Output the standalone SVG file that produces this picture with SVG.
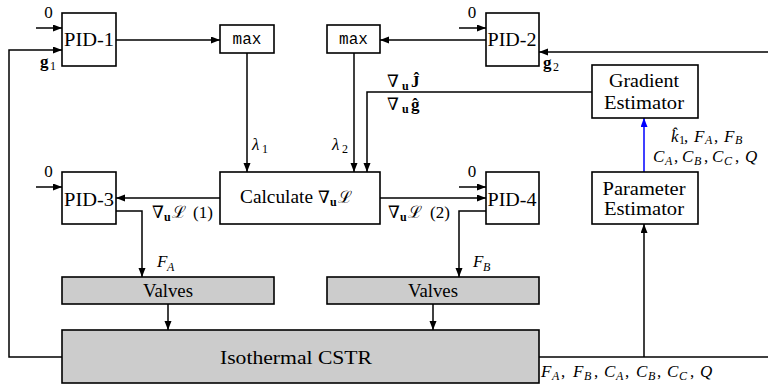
<svg xmlns="http://www.w3.org/2000/svg" width="768" height="387" viewBox="0 0 768 387">
<style>
.box{fill:#fff;stroke:#000;stroke-width:1.6}
.gray{fill:#cccccc;stroke:#000;stroke-width:1.6}
.ln{fill:none;stroke:#000;stroke-width:1.5}
.blue{fill:none;stroke:#0000ff;stroke-width:1.5}
text{fill:#000}
.t{font-size:18px}
.m{font-size:17px;font-style:italic}
.n{font-size:17px}
.s{font-size:12px}
.b{font-weight:bold;font-style:normal}
.r{font-style:normal}
.tt{font-size:16px}
</style>
<defs>
<marker id="ar" markerUnits="userSpaceOnUse" markerWidth="10" markerHeight="8" refX="9" refY="3.5" orient="auto"><path d="M0,0 L9,3.5 L0,7 z" fill="#000"/></marker>
<marker id="arb" markerUnits="userSpaceOnUse" markerWidth="10" markerHeight="8" refX="9" refY="3.5" orient="auto"><path d="M0,0 L9,3.5 L0,7 z" fill="#0000ff"/></marker>
</defs>

<g id="connectors">
<path class="ln" d="M36,28 H62" marker-end="url(#ar)"/>
<path class="ln" d="M62,357 H9 V50 H62" marker-end="url(#ar)"/>
<path class="ln" d="M116,40 H220" marker-end="url(#ar)"/>
<path class="ln" d="M247,53 V172" marker-end="url(#ar)"/>
<path class="ln" d="M486,40 H380" marker-end="url(#ar)"/>
<path class="ln" d="M459,28 H486" marker-end="url(#ar)"/>
<path class="ln" d="M768,52 H539" marker-end="url(#ar)"/>
<path class="ln" d="M354,53 V172" marker-end="url(#ar)"/>
<path class="ln" d="M592,92 H367 V172" marker-end="url(#ar)"/>
<path class="ln" d="M220,198 H116" marker-end="url(#ar)"/>
<path class="ln" d="M36,187 H62" marker-end="url(#ar)"/>
<path class="ln" d="M380,198 H486" marker-end="url(#ar)"/>
<path class="ln" d="M459,187 H486" marker-end="url(#ar)"/>
<path class="ln" d="M116,211 H142 V277" marker-end="url(#ar)"/>
<path class="ln" d="M486,211 H459 V277" marker-end="url(#ar)"/>
<path class="ln" d="M168,304 V330" marker-end="url(#ar)"/>
<path class="ln" d="M433,304 V330" marker-end="url(#ar)"/>
<path class="ln" d="M539,357 H768"/>
<path class="ln" d="M644,357 V224" marker-end="url(#ar)"/>
<path class="blue" d="M644,172 V118" marker-end="url(#arb)"/>
</g>

<g font-family="'Liberation Serif', 'DejaVu Serif', 'Noto Serif', 'Times New Roman', serif">
<g id="pid1">
<rect class="box" x="62" y="13" width="54" height="53"/>
<text class="t" x="89" y="46" text-anchor="middle" textLength="50" lengthAdjust="spacingAndGlyphs">PID-1</text>
</g>
<g id="pid2">
<rect class="box" x="486" y="13" width="53" height="53"/>
<text class="t" x="512" y="46" text-anchor="middle" textLength="49" lengthAdjust="spacingAndGlyphs">PID-2</text>
</g>
<g id="pid3">
<rect class="box" x="62" y="172" width="54" height="52"/>
<text class="t" x="89" y="206" text-anchor="middle" textLength="50" lengthAdjust="spacingAndGlyphs">PID-3</text>
</g>
<g id="pid4">
<rect class="box" x="486" y="172" width="53" height="52"/>
<text class="t" x="512" y="206" text-anchor="middle" textLength="49" lengthAdjust="spacingAndGlyphs">PID-4</text>
</g>
<g id="max1">
<rect class="box" x="220" y="25" width="54" height="28"/>
<text class="tt" font-family="'Liberation Mono', 'DejaVu Sans Mono', monospace" x="247" y="44" text-anchor="middle">max</text>
</g>
<g id="max2">
<rect class="box" x="327" y="25" width="53" height="28"/>
<text class="tt" font-family="'Liberation Mono', 'DejaVu Sans Mono', monospace" x="353.5" y="44" text-anchor="middle">max</text>
</g>
<g id="gradient-estimator">
<rect class="box" x="592" y="65" width="106" height="53"/>
<text class="t" x="644" y="87" text-anchor="middle" textLength="70" lengthAdjust="spacingAndGlyphs">Gradient</text>
<text class="t" x="644" y="109" text-anchor="middle" textLength="80" lengthAdjust="spacingAndGlyphs">Estimator</text>
</g>
<g id="parameter-estimator">
<rect class="box" x="592" y="172" width="106" height="52"/>
<text class="t" x="644" y="195" text-anchor="middle" textLength="83" lengthAdjust="spacingAndGlyphs">Parameter</text>
<text class="t" x="644" y="215" text-anchor="middle" textLength="80" lengthAdjust="spacingAndGlyphs">Estimator</text>
</g>
<g id="calculate">
<rect class="box" x="220" y="172" width="160" height="52"/>
<text class="t" y="203"><tspan x="240" textLength="73" lengthAdjust="spacingAndGlyphs">Calculate</tspan><tspan x="318" class="n">∇</tspan><tspan x="330" dy="3" class="s b">u</tspan><tspan x="338" dy="-3" class="m">ℒ</tspan></text>
</g>
<g id="valves1">
<rect class="gray" x="62" y="277" width="212" height="27"/>
<text class="t" x="168" y="297" text-anchor="middle" textLength="50" lengthAdjust="spacingAndGlyphs">Valves</text>
</g>
<g id="valves2">
<rect class="gray" x="327" y="277" width="212" height="27"/>
<text class="t" x="433" y="297" text-anchor="middle" textLength="50" lengthAdjust="spacingAndGlyphs">Valves</text>
</g>
<g id="cstr">
<rect class="gray" x="62" y="330" width="477" height="53"/>
<text class="t" x="220" y="364" textLength="152" lengthAdjust="spacingAndGlyphs">Isothermal CSTR</text>
</g>

<g id="labels">
<text class="n" x="48.5" y="18" text-anchor="middle">0</text>
<text class="n" x="472" y="18" text-anchor="middle">0</text>
<text class="n" x="48.5" y="177" text-anchor="middle">0</text>
<text class="n" x="472" y="177" text-anchor="middle">0</text>

<text class="n" y="67"><tspan x="40" class="b">g</tspan><tspan x="50" dy="3" class="s">1</tspan></text>
<text class="n" y="68"><tspan x="543" class="b">g</tspan><tspan x="553" dy="3" class="s">2</tspan></text>

<text class="m" y="150"><tspan x="252">λ</tspan><tspan x="262" dy="3" class="s r">1</tspan></text>
<text class="m" y="150"><tspan x="332">λ</tspan><tspan x="342" dy="3" class="s r">2</tspan></text>

<text class="n" y="87"><tspan x="387">∇</tspan><tspan x="402" dy="3" class="s b">u</tspan><tspan x="411" dy="-3" class="b">Ĵ</tspan></text>
<text class="n" y="110"><tspan x="387">∇</tspan><tspan x="402" dy="3" class="s b">u</tspan><tspan x="411" dy="-3" class="b">ĝ</tspan></text>

<text class="n" y="218"><tspan x="152">∇</tspan><tspan x="164" dy="3" class="s b">u</tspan><tspan x="172" dy="-3" class="m">ℒ</tspan><tspan x="193">(1)</tspan></text>
<text class="n" y="218"><tspan x="388">∇</tspan><tspan x="400" dy="3" class="s b">u</tspan><tspan x="408" dy="-3" class="m">ℒ</tspan><tspan x="430">(2)</tspan></text>

<text class="m" y="267"><tspan x="157">F</tspan><tspan x="167" dy="4" class="s">A</tspan></text>
<text class="m" y="267"><tspan x="473">F</tspan><tspan x="483" dy="4" class="s">B</tspan></text>

<text class="m" y="142"><tspan x="671">k̂</tspan><tspan x="679" dy="2" class="s r">1</tspan><tspan x="684" dy="-2" class="r">,</tspan><tspan x="694">F</tspan><tspan x="705" dy="2" class="s">A</tspan><tspan x="714" dy="-2" class="r">,</tspan><tspan x="724">F</tspan><tspan x="735" dy="2" class="s">B</tspan></text>

<text class="m" y="162"><tspan x="653">C</tspan><tspan x="665" dy="3" class="s">A</tspan><tspan x="674" dy="-3" class="r">,</tspan><tspan x="682">C</tspan><tspan x="694" dy="3" class="s">B</tspan><tspan x="704" dy="-3" class="r">,</tspan><tspan x="712">C</tspan><tspan x="724" dy="3" class="s">C</tspan><tspan x="735" dy="-3" class="r">,</tspan><tspan x="745">Q</tspan></text>

<text class="m" y="377"><tspan x="541">F</tspan><tspan x="552" dy="3" class="s">A</tspan><tspan x="561" dy="-3" class="r">,</tspan><tspan x="573">F</tspan><tspan x="584" dy="3" class="s">B</tspan><tspan x="594" dy="-3" class="r">,</tspan><tspan x="604">C</tspan><tspan x="616" dy="3" class="s">A</tspan><tspan x="625" dy="-3" class="r">,</tspan><tspan x="636">C</tspan><tspan x="648" dy="3" class="s">B</tspan><tspan x="657" dy="-3" class="r">,</tspan><tspan x="667">C</tspan><tspan x="679" dy="3" class="s">C</tspan><tspan x="690" dy="-3" class="r">,</tspan><tspan x="700">Q</tspan></text>
</g>
</g>
</svg>
